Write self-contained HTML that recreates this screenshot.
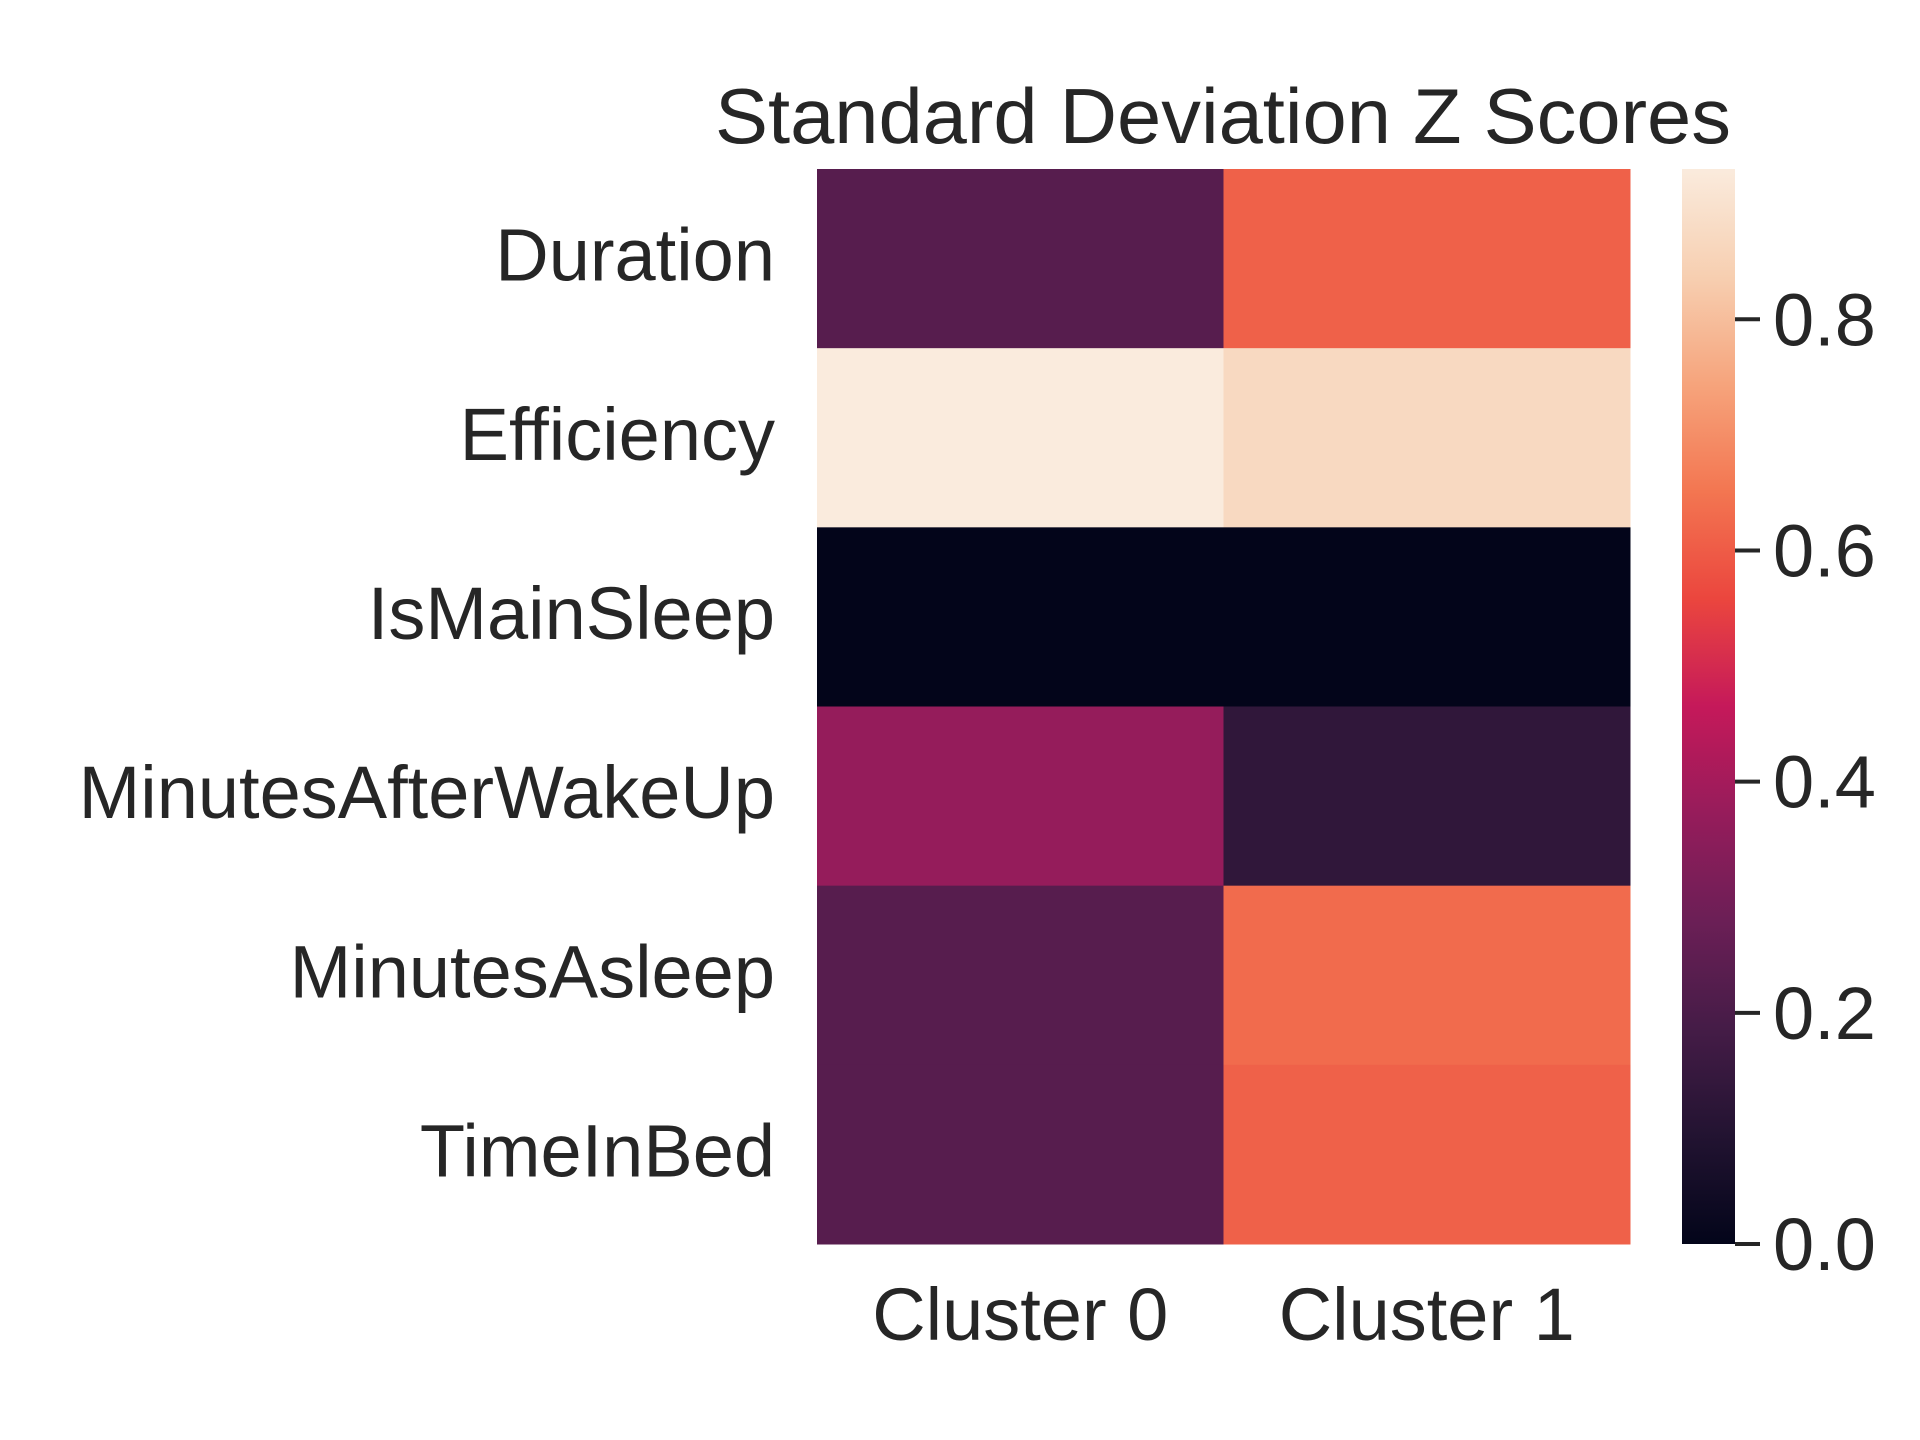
<!DOCTYPE html>
<html><head><meta charset="utf-8"><style>
html,body{margin:0;padding:0;background:#fff;}
svg{display:block;font-family:"Liberation Sans",Arial,sans-serif;fill:#262626;}
</style></head><body>
<svg id="chart" width="1920" height="1440" viewBox="0 0 1920 1440">
<defs><linearGradient id="cbg" x1="0" y1="1" x2="0" y2="0"></linearGradient></defs>
<text x="1223" y="143" font-size="78" text-anchor="middle" textLength="1016" lengthAdjust="spacingAndGlyphs">Standard Deviation Z Scores</text>
<g id="cells"></g>
<g id="ylabels"></g>
<g id="xlabels"></g>
<g id="cbar"></g>
</svg>
<script>
const rows = ["Duration","Efficiency","IsMainSleep","MinutesAfterWakeUp","MinutesAsleep","TimeInBed"];
const cols = ["Cluster 0","Cluster 1"];
const cluster0 = [0.23, 0.93, 0.0, 0.37, 0.23, 0.23];
const cluster1 = [0.61, 0.87, 0.0, 0.13, 0.63, 0.61];
const cbTicks = [0.0, 0.2, 0.4, 0.6, 0.8];
const vmin = 0, vmax = 0.93;

const cmap = [[0,"#03051a"],[0.1,"#221331"],[0.2,"#451c47"],[0.3,"#6b1f56"],[0.4,"#961c5b"],[0.5,"#c5195a"],[0.6,"#eb463e"],[0.7,"#f37651"],[0.8,"#f6a47c"],[0.9,"#f7cfb1"],[1,"#faebdd"]];
function hex(h){return [1,3,5].map(i=>parseInt(h.substr(i,2),16));}
function color(v){
  let t=Math.max(0,Math.min(1,(v-vmin)/(vmax-vmin)));
  for(let i=0;i<cmap.length-1;i++){
    const [a,ca]=cmap[i],[b,cb]=cmap[i+1];
    if(t<=b){const f=(t-a)/(b-a),A=hex(ca),B=hex(cb);
      return "rgb("+A.map((x,k)=>Math.round(x+(B[k]-x)*f)).join(",")+")";}
  }
  return cmap[cmap.length-1][1];
}
const NS="http://www.w3.org/2000/svg";
const X0=817,X1=1630,Y0=169,Y1=1244;
const cw=(X1-X0)/cols.length, rh=(Y1-Y0)/rows.length;
const xPos=j=>X0+j*cw, yPos=i=>Y0+i*rh;
const series=[cluster0,cluster1];
const cells=document.getElementById('cells');
series.forEach((s,j)=>s.forEach((v,i)=>{
  const r=document.createElementNS(NS,'rect');
  r.setAttribute('x',xPos(j));r.setAttribute('y',yPos(i));
  r.setAttribute('width',cw+0.5);r.setAttribute('height',rh+0.5);
  r.setAttribute('fill',color(v));
  
  
  cells.appendChild(r);
}));
const yl=document.getElementById('ylabels');
rows.forEach((n,i)=>{
  const t=document.createElementNS(NS,'text');
  t.setAttribute('x',775);t.setAttribute('y',yPos(i)+rh/2+22);
  t.setAttribute('font-size',74);t.setAttribute('text-anchor','end');
  t.textContent=n;
  
  
  yl.appendChild(t);
});
const xl=document.getElementById('xlabels');
cols.forEach((n,j)=>{
  const t=document.createElementNS(NS,'text');
  t.setAttribute('x',xPos(j)+cw/2);t.setAttribute('y',1340);
  t.setAttribute('font-size',74);t.setAttribute('text-anchor','middle');
  t.textContent=n;
  
  
  xl.appendChild(t);
});
const grad=document.getElementById('cbg');
cmap.forEach(([o,c])=>{const s=document.createElementNS(NS,'stop');s.setAttribute('offset',o);s.setAttribute('stop-color',c);grad.appendChild(s);});
const cb=document.getElementById('cbar');
const CX=1682,CW=53;
const cy=v=>Y1-(v-vmin)/(vmax-vmin)*(Y1-Y0);
const cr=document.createElementNS(NS,'rect');
cr.setAttribute('x',CX);cr.setAttribute('y',Y0);cr.setAttribute('width',CW);cr.setAttribute('height',Y1-Y0);cr.setAttribute('fill','url(#cbg)');


cb.appendChild(cr);
cbTicks.forEach(v=>{
  const l=document.createElementNS(NS,'line');
  l.setAttribute('x1',CX+CW);l.setAttribute('x2',CX+CW+25);l.setAttribute('y1',cy(v));l.setAttribute('y2',cy(v));
  l.setAttribute('stroke','#262626');l.setAttribute('stroke-width',4);
  
  
  cb.appendChild(l);
  const t=document.createElementNS(NS,'text');
  t.setAttribute('x',1773);t.setAttribute('y',cy(v)+26);t.setAttribute('font-size',74);
  t.textContent=v.toFixed(1);
  
  
  cb.appendChild(t);
});
</script>
</body></html>
